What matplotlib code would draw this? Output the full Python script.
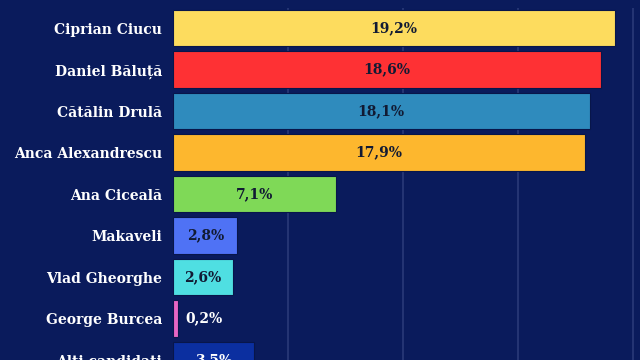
import matplotlib
matplotlib.use("Agg")
import matplotlib.pyplot as plt

candidates = ["Ciprian Ciucu", "Daniel Băluță", "Cătălin Drulă", "Anca Alexandrescu",
              "Ana Ciceală", "Makaveli", "Vlad Gheorghe", "George Burcea", "Alți candidați"]
values = [19.2, 18.6, 18.1, 17.9, 7.1, 2.8, 2.6, 0.2, 3.5]
value_labels = ["19,2%", "18,6%", "18,1%", "17,9%", "7,1%", "2,8%", "2,6%", "0,2%", "3,5%"]
colors = ["#fddc5e", "#fe3134", "#2f8bbd", "#fdb72e", "#7fd957", "#4f72f5", "#4fdfe2", "#e666c4", "#0b2fa0"]
label_colors = ["#111a33"] * 7 + ["white", "white"]
grid_ticks = [5, 10, 15, 20]

BG = "#0a1b5c"
FONT = ["DejaVu Serif"]
fig = plt.figure(figsize=(6.4, 3.6), dpi=100, facecolor=BG)
ax = fig.add_axes([173 / 640, 0, 1 - 173 / 640, 1 - 8 / 360])
ax.set_facecolor(BG)

ypos = list(range(len(candidates)))
ax.barh(ypos, values, height=0.88, color=colors, edgecolor="#08164a", linewidth=0.8, zorder=3)

for y, v, lab, lc in zip(ypos, values, value_labels, label_colors):
    if v < 1:
        ax.text(v + 0.35, y, lab, ha="left", va="center", color=lc,
                fontsize=10, fontweight="bold", family=FONT, zorder=4)
    else:
        ax.text(v / 2, y, lab, ha="center", va="center", color=lc,
                fontsize=10, fontweight="bold", family=FONT, zorder=4)

ax.set_xlim(0, 20.29)
ax.set_ylim(7.874, -0.487)
ax.set_xticks(grid_ticks)
ax.xaxis.grid(True, color="#2a3a78", linewidth=1.2, zorder=0)
ax.tick_params(axis="x", length=0, labelbottom=False)
ax.set_yticks(ypos)
ax.set_yticklabels(candidates, color="white", fontsize=10, fontweight="bold", family=FONT)
ax.tick_params(axis="y", length=0, pad=8)
for s in ax.spines.values():
    s.set_visible(False)

fig.savefig("out.png", dpi=100, facecolor=BG)
